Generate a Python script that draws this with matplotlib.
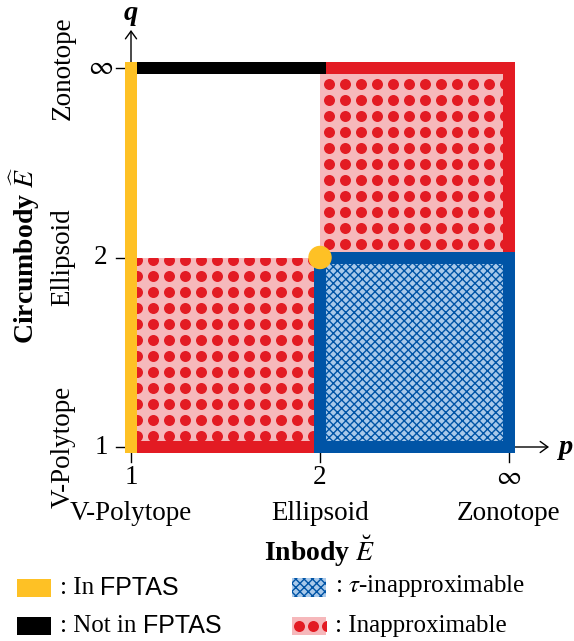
import matplotlib
matplotlib.use("Agg")
import matplotlib.pyplot as plt
from matplotlib.patches import Rectangle, Circle
import numpy as np

plt.rcParams['font.family'] = ['Liberation Serif', 'DejaVu Serif']
plt.rcParams['mathtext.fontset'] = 'stix'
plt.rcParams['hatch.linewidth'] = 1.0

# ---------------- data ----------------
param_ticks = ['1', '2', r'$\infty$']              # p and q values at positions 0,1,2
inbody_names = ['V-Polytope', 'Ellipsoid', 'Zonotope']
circumbody_names = ['V-Polytope', 'Ellipsoid', 'Zonotope']
# segments: ((p0, p1), (q0, q1)) in tick-index coordinates
in_fptas_segments = [((0, 0), (0, 2))]
not_fptas_segments = [((0, 1), (2, 2))]
inapprox_edge_segments = [((0, 1), (0, 0)), ((1, 2), (2, 2)), ((2, 2), (1, 2))]
inapprox_regions = [((0, 1), (0, 1)), ((1, 2), (1, 2))]
tau_regions = [((1, 2), (0, 1))]
fptas_points = [(1, 1)]
legend_labels = [': In ', ': Not in ', r': $\tau$-inapproximable', ': Inapproximable']

# ---------------- colours ----------------
YELLOW = '#FEC125'
RED = '#E31B23'
PINK = '#F6B8BB'
BLUE = '#0054A6'
LIGHTBLUE = '#A9C9EA'

# ---------------- layout (pixel geometry) ----------------
W, H = 574, 641
OX, OY = 131, 447          # pixel position of (1,1)
SX, SY = 189.0, 189.5      # pixels per tick step

def fx(px):
    return (px - OX) / SX

def fy(py):
    return (OY - py) / SY

fig = plt.figure(figsize=(W / 100, H / 100), dpi=100)
ax = fig.add_axes([0, 0, 1, 1])
ax.set_xlim(fx(0), fx(W))
ax.set_ylim(fy(H), fy(0))
ax.axis('off')

BAR_PT = 12 * 0.72   # 12 px thick bars
FS = 19.5
FS_LAB = 20
FS_LEG = 18

# pink regions with dots
dot_dx, dot_dy = 16 / SX, 16 / SY
for (p0, p1), (q0, q1) in inapprox_regions:
    rect = Rectangle((p0, q0), p1 - p0, q1 - q0, facecolor=PINK, edgecolor='none', zorder=1)
    ax.add_patch(rect)
    xs = np.arange(fx(137.3) - 20 * dot_dx, 3, dot_dx)
    ys = np.arange(fy(68.3) + 20 * dot_dy, -1, -dot_dy)
    gx, gy = np.meshgrid(xs, ys)
    m = (gx > p0 - dot_dx) & (gx < p1 + dot_dx) & (gy > q0 - dot_dy) & (gy < q1 + dot_dy)
    sc = ax.scatter(gx[m], gy[m], s=(11 * 0.72) ** 2, color=RED, linewidths=0, zorder=1.5)
    sc.set_clip_path(rect)

# axes with arrows
ax.annotate('', xy=(fx(549), 0), xytext=(0, 0),
            arrowprops=dict(arrowstyle='->,head_length=0.55,head_width=0.4', lw=1.0,
                            color='black', shrinkA=0, shrinkB=0), zorder=0.5)
ax.annotate('', xy=(0, fy(30)), xytext=(0, 0),
            arrowprops=dict(arrowstyle='->,head_length=0.55,head_width=0.4', lw=1.0,
                            color='black', shrinkA=0, shrinkB=0), zorder=0.5)

# ticks and tick labels
tick_len_x = 15 / SX
tick_len_y = 15 / SY
for i, lab in enumerate(param_ticks):
    ax.plot([i, i], [0, -tick_len_y], color='black', lw=1.0, zorder=0.5)
    ax.plot([0, -tick_len_x], [i, i], color='black', lw=1.0, zorder=0.5)
    ax.text(i, fy(477), lab, ha='center', va='center', fontsize=FS)
    ax.text(fx(101), i, lab, ha='center', va='center', fontsize=FS)
    ax.text(i, fy(513), inbody_names[i], ha='center', va='center', fontsize=FS)
    ax.text(fx(63), i, circumbody_names[i], ha='center', va='center', fontsize=FS, rotation=90)

ax.text(fx(320), fy(551), r'Inbody $\breve{E}$', ha='center', va='center', fontsize=FS_LAB,
        fontweight='bold')
ax.text(fx(25), fy(255), r'Circumbody $\widehat{E}$', ha='center', va='center', fontsize=FS_LAB,
        fontweight='bold', rotation=90)
ax.text(fx(565), 0, 'p', ha='center', va='center', fontsize=FS + 1, fontweight='bold',
        style='italic')
ax.text(0, fy(13), 'q', ha='center', va='center', fontsize=FS + 1, fontweight='bold',
        style='italic')

# red inapproximable edges
for (p0, p1), (q0, q1) in inapprox_edge_segments:
    ax.plot([p0, p1], [q0, q1], color=RED, lw=BAR_PT, solid_capstyle='projecting', zorder=2)

# tau-inapproximable square
for (p0, p1), (q0, q1) in tau_regions:
    ax.add_patch(Rectangle((p0, q0), p1 - p0, q1 - q0, facecolor=LIGHTBLUE, edgecolor=BLUE,
                           lw=0, hatch='xxxx', zorder=3))
    ax.add_patch(Rectangle((p0, q0), p1 - p0, q1 - q0, fill=False, edgecolor=BLUE,
                           lw=BAR_PT, joinstyle='miter', zorder=3.1))

# not in FPTAS
for (p0, p1), (q0, q1) in not_fptas_segments:
    ax.plot([p0, p1], [q0, q1], color='black', lw=BAR_PT, solid_capstyle='projecting', zorder=4)

# in FPTAS
for (p0, p1), (q0, q1) in in_fptas_segments:
    ax.plot([p0, p1], [q0, q1], color=YELLOW, lw=BAR_PT, solid_capstyle='projecting', zorder=5)
for (p, q) in fptas_points:
    ax.add_patch(Circle((p, q), 11 / SX, color=YELLOW, zorder=6))

# ---------------- legend ----------------
def box(x0, y0, x1, y1, **kw):
    r = Rectangle((fx(x0), fy(y1)), fx(x1) - fx(x0), fy(y0) - fy(y1), **kw)
    ax.add_patch(r)
    return r

box(17, 579, 51, 597, facecolor=YELLOW, edgecolor='none')
box(17, 617, 51, 635, facecolor='black', edgecolor='none')
box(292, 578, 326, 597, facecolor=LIGHTBLUE, edgecolor=BLUE, lw=0, hatch='xxxx')
lrect = box(292, 617, 326, 635, facecolor=PINK, edgecolor='none')
lsc = ax.scatter([fx(299), fx(313), fx(327)], [fy(626)] * 3, s=(11 * 0.72) ** 2, color=RED,
                 linewidths=0)
lsc.set_clip_path(lrect)

fig.canvas.draw()
renderer = fig.canvas.get_renderer()
inv = ax.transData.inverted()
for lab, ypx in [(legend_labels[0], 588), (legend_labels[1], 626)]:
    t = ax.text(fx(60), fy(ypx), lab, ha='left', va='center', fontsize=FS_LEG)
    bb = t.get_window_extent(renderer)
    xend = inv.transform((bb.x1, bb.y0))[0]
    ax.text(xend, fy(ypx), 'FPTAS', ha='left', va='center', fontsize=FS_LEG,
            family=['Liberation Sans', 'DejaVu Sans'])
ax.text(fx(335), fy(586), legend_labels[2], ha='left', va='center', fontsize=FS_LEG)
ax.text(fx(335), fy(626), legend_labels[3], ha='left', va='center', fontsize=FS_LEG)

fig.savefig('out.png', dpi=100)
